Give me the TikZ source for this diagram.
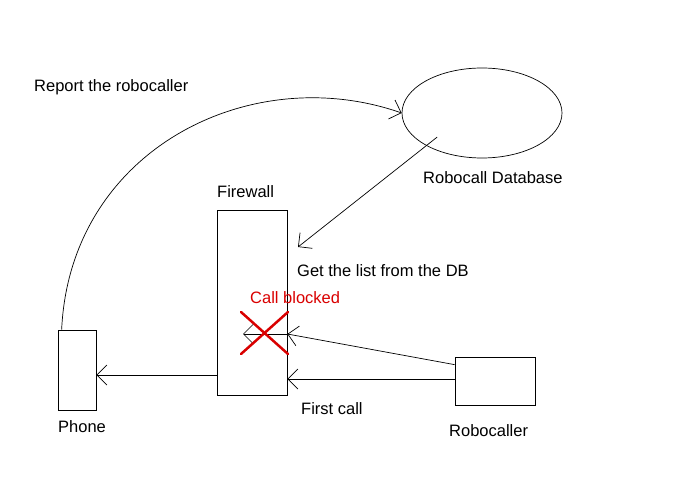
\documentclass[tikz,border=0pt]{standalone}
\usepackage{fontspec}
\setmainfont{Liberation Sans}
\usetikzlibrary{arrows.meta,shapes.geometric}

\begin{document}
\begin{tikzpicture}[x=1pt,y=-1pt,%%
  boxStyle/.style={draw,line width=0.7pt,inner sep=0pt},%%
  arrowStyle/.style={-{Straight Barb[length=10pt,width=20pt]},line width=0.7pt},%%
  labelStyle/.style={font=\fontsize{16.5}{19}\selectfont,anchor=west,inner sep=0pt},%%
  blockStyle/.style={red!85!black,line width=2.5pt,line cap=round}%%
]
\useasboundingbox (0,0) rectangle (695,494);
%%
%% Boxes and the database.
\node[boxStyle,minimum width=70pt,minimum height=185pt] (firewall) at (252,302.5) {};
\node[boxStyle,minimum width=38pt,minimum height=80pt] (phone) at (77,370) {};
\node[boxStyle,minimum width=80pt,minimum height=48pt] (robocaller) at (495,381) {};
\node[draw,line width=0.7pt,ellipse,minimum width=160pt,minimum height=90pt,inner sep=0pt] (db) at (482,113) {};
%%
%% Labels.
\node[labelStyle] (lreport) at (34,87) {Report the robocaller};
\node[labelStyle] (ldb) at (423,178) {Robocall Database};
\node[labelStyle] (lfirewall) at (217,192) {Firewall};
\node[labelStyle] (llist) at (297,271) {Get the list from the DB};
\node[labelStyle,text=red!85!black] (lblocked) at (250,298) {Call blocked};
\node[labelStyle] (lfirst) at (301,409) {First call};
\node[labelStyle] (lphone) at (58,427) {Phone};
\node[labelStyle] (lrobocaller) at (449,431) {Robocaller};
%%
%% Connectors.
\coordinate (blockEnd) at (243,334);
\coordinate (listEnd) at (298,247);
\draw[arrowStyle] (phone.north west) ++(4,0) coordinate (phoneTop)
  .. controls (70,150) and (250,60) .. (db.west);
\draw[arrowStyle] (db.south west) ++(12,-8) -- (listEnd);
\draw[arrowStyle] (firewall.west |- 0,375) -- (phone.east |- 0,375);
\draw[arrowStyle] (robocaller.north west) ++(0,8) coordinate (secondStart) -- (firewall.east |- 0,334);
\draw[arrowStyle] (firewall.east |- 0,334) -- (blockEnd);
\draw[arrowStyle] (robocaller.west |- 0,379) -- (firewall.east |- 0,379);
%%
%% The cross over the blocked call.
\draw[blockStyle] (241,312) -- (288,354);
\draw[blockStyle] (241,354) -- (288,312);
\end{tikzpicture}
\end{document}
